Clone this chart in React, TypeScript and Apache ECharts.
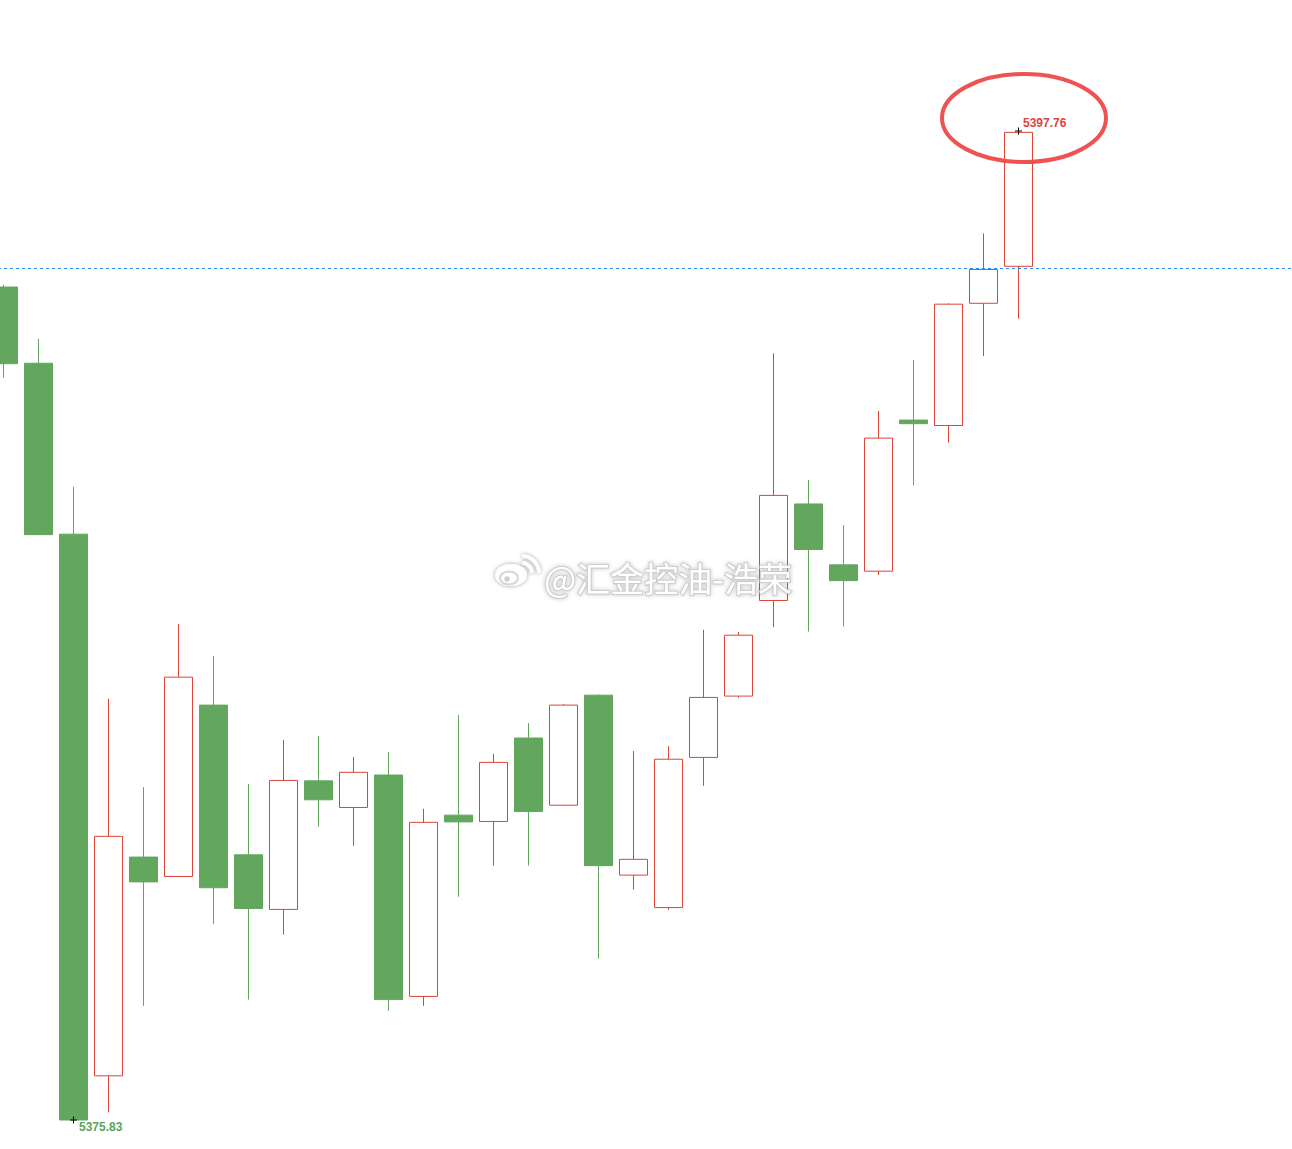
import React, { useEffect, useRef } from "react";
import * as echarts from "echarts";

// ---- data ----
const categories = [
  "1", "2", "3", "4", "5", "6", "7", "8", "9", "10",
  "11", "12", "13", "14", "15", "16", "17", "18", "19", "20",
  "21", "22", "23", "24", "25", "26", "27", "28", "29", "30",
];
const opens = [
  5394.30, 5392.61, 5388.82, 5376.81, 5381.66, 5381.23, 5385.03, 5381.71, 5380.50, 5383.35,
  5382.76, 5383.48, 5378.57, 5382.59, 5382.45, 5384.30, 5382.81, 5385.25, 5381.26, 5380.54,
  5383.87, 5385.23, 5387.35, 5389.49, 5388.14, 5388.00, 5391.35, 5391.23, 5393.94, 5394.76,
];
const closes = [
  5392.60, 5388.81, 5375.83, 5382.12, 5381.11, 5385.65, 5380.98, 5380.52, 5383.36, 5382.93,
  5383.54, 5378.50, 5382.43, 5382.44, 5383.76, 5382.67, 5385.03, 5381.47, 5381.61, 5383.83,
  5385.20, 5386.58, 5389.68, 5388.48, 5387.79, 5390.95, 5391.27, 5393.92, 5394.69, 5397.73,
];
const lows = [
  5392.29, 5388.80, 5375.83, 5376.00, 5378.36, 5381.23, 5380.18, 5378.50, 5379.94, 5382.33,
  5381.91, 5378.25, 5378.36, 5380.78, 5381.47, 5381.47, 5382.81, 5379.41, 5380.94, 5380.49,
  5383.24, 5385.19, 5386.76, 5386.66, 5386.77, 5387.92, 5389.90, 5390.85, 5392.77, 5393.60,
];
const highs = [
  5394.35, 5393.15, 5389.87, 5385.17, 5383.21, 5386.83, 5386.12, 5383.28, 5384.26, 5384.34,
  5383.88, 5383.99, 5382.73, 5384.81, 5383.95, 5384.63, 5385.05, 5385.27, 5384.01, 5384.12,
  5386.70, 5386.65, 5392.83, 5390.02, 5389.02, 5391.55, 5392.68, 5393.94, 5395.49, 5397.76,
];
const priceLine = 5394.71;
const watermarkText = "@汇金控油-浩荣";

const UP = "#db4437";
const DOWN = "#63a65e";
const SHIFT = 14; // chart canvas starts left of the page edge (first candle is cut)
const BAND = 35;
const PAD_CATS = 8;

export default function App() {
  const ref = useRef<HTMLDivElement>(null);

  useEffect(() => {
    if (!ref.current) return;
    const chart = echarts.init(ref.current, undefined, { renderer: "svg" });

    const padCats = Array.from({ length: PAD_CATS }, (_, i) => `pad${i}`);
    const xCats = categories.concat(padCats);
    const kData = categories.map((_, i) => [opens[i], closes[i], lows[i], highs[i]]);

    let hiIdx = 0;
    let loIdx = 0;
    highs.forEach((v, i) => { if (v > highs[hiIdx]) hiIdx = i; });
    lows.forEach((v, i) => { if (v < lows[loIdx]) loIdx = i; });

    const labelFont = {
      fontFamily: "Liberation Sans, Arial, sans-serif",
      fontSize: 12,
      fontWeight: "bold" as const,
      align: "left" as const,
      verticalAlign: "middle" as const,
    };

    const shadow = { shadowBlur: 4, shadowColor: "rgba(0,0,0,0.4)" };
    const WZ = 100;

    chart.setOption({
      animation: false,
      backgroundColor: "#ffffff",
      grid: { left: 0, top: 0, right: 0, bottom: 0 },
      xAxis: {
        type: "category",
        data: xCats,
        show: false,
        boundaryGap: true,
      },
      yAxis: {
        type: "value",
        min: 5375.187,
        max: 5400.665,
        show: false,
        splitLine: { show: false },
      },
      series: [
        {
          type: "candlestick",
          data: kData,
          barWidth: 28,
          itemStyle: {
            color: "#ffffff",
            color0: DOWN,
            borderColor: UP,
            borderColor0: DOWN,
            borderWidth: 1,
          },
          markLine: {
            silent: true,
            symbol: ["none", "none"],
            label: { show: false },
            lineStyle: { color: "#1e8cf0", type: [3, 3], width: 1 },
            data: [{ yAxis: priceLine }],
          },
          markPoint: {
            silent: true,
            symbol: "path://M0,4L8,4M4,0L4,8",
            symbolSize: 7,
            itemStyle: { color: "transparent", borderColor: "#000000", borderWidth: 1 },
            data: [
              {
                coord: [categories[hiIdx], highs[hiIdx]],
                value: highs[hiIdx],
                label: {
                  show: true,
                  position: [8.5, -4.5],
                  color: "#d9463e",
                  formatter: (p: any) => Number(p.value).toFixed(2),
                  ...labelFont,
                },
              },
              {
                coord: [categories[loIdx], lows[loIdx]],
                value: lows[loIdx],
                label: {
                  show: true,
                  position: [9.5, 10.5],
                  color: "#58a55a",
                  formatter: (p: any) => Number(p.value).toFixed(2),
                  ...labelFont,
                },
              },
            ],
          },
        },
      ],
      graphic: [
        {
          type: "ellipse",
          z: 50,
          shape: { cx: 1024 + SHIFT, cy: 118, rx: 82, ry: 44 },
          style: { fill: "transparent", stroke: "#f05252", lineWidth: 4 },
          silent: true,
        },
        {
          type: "arc",
          z: WZ,
          silent: true,
          shape: { cx: 522 + SHIFT, cy: 573, r: 17, startAngle: -Math.PI / 2, endAngle: 0, clockwise: true },
          style: { stroke: "#ffffff", lineWidth: 3.5, fill: "none", ...shadow },
        },
        {
          type: "arc",
          z: WZ,
          silent: true,
          shape: { cx: 522 + SHIFT, cy: 573, r: 10, startAngle: -Math.PI / 2, endAngle: 0, clockwise: true },
          style: { stroke: "#ffffff", lineWidth: 3.5, fill: "none", ...shadow },
        },
        {
          type: "ellipse",
          z: WZ,
          silent: true,
          shape: { cx: 511 + SHIFT, cy: 575, rx: 16, ry: 11 },
          style: { fill: "#ffffff", ...shadow },
        },
        {
          type: "ellipse",
          z: WZ + 1,
          silent: true,
          shape: { cx: 509 + SHIFT, cy: 578, rx: 9, ry: 6.5 },
          style: { fill: "#ffffff", stroke: "#d6d6d6", lineWidth: 2 },
        },
        {
          type: "circle",
          z: WZ + 2,
          silent: true,
          shape: { cx: 507 + SHIFT, cy: 579, r: 2.8 },
          style: { fill: "#d0d0d0" },
        },
        {
          type: "text",
          z: WZ + 3,
          silent: true,
          x: 544 + SHIFT,
          y: 577,
          style: {
            text: watermarkText,
            fill: "#ffffff",
            stroke: "rgba(190,190,190,0.65)",
            lineWidth: 2.5,
            fontSize: 34,
            fontFamily: "Noto Sans CJK SC",
            align: "left",
            verticalAlign: "middle",
            textShadowBlur: 4,
            textShadowColor: "rgba(0,0,0,0.25)",
          },
        },
      ],
    });

    return () => chart.dispose();
  }, []);

  return (
    <div
      style={{
        position: "absolute",
        left: 0,
        top: 0,
        width: 1292,
        height: 1149,
        overflow: "hidden",
      }}
    >
      <div
        ref={ref}
        style={{
          position: "absolute",
          left: -SHIFT,
          top: 0,
          width: (categories.length + PAD_CATS) * BAND,
          height: 1149,
        }}
      />
    </div>
  );
}
